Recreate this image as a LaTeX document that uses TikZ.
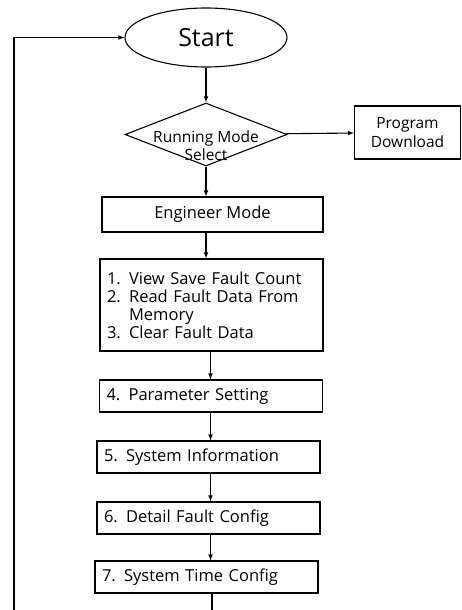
\documentclass[tikz,border=0pt]{standalone}
\usepackage{fontspec}
\setmainfont{Open Sans}
\usetikzlibrary{arrows,positioning,shapes}

\begin{document}
\begin{tikzpicture}[x=1pt,y=-1pt,line width=1.1pt,
        font=\fontsize{16.5}{18}\selectfont,
        box/.style={draw, inner sep=0pt, minimum height=32pt},
        item/.style={box, minimum width=223pt, text width=209pt, align=left}]
                \useasboundingbox (0,0) rectangle (461,610);

                \node [draw, ellipse, minimum width=162pt, minimum height=59pt,
                        font=\fontsize{25}{30}\selectfont] (start) at (206,37.5) {Start};
                \node [draw, diamond, minimum width=162pt, minimum height=63pt,
                        inner sep=0pt] (sel) at (206,134.5) {};
                \node [align=center, font=\fontsize{15.5}{18}\selectfont] (seltxt) at (206,146) {Running Mode\\Select};
                \node [box, minimum width=106pt, minimum height=53pt,
                        align=center, font=\fontsize{15.5}{19}\selectfont] (prog) at (407.5,132.5) {Program\\Download};

                \node [box, minimum width=221pt, minimum height=35pt] (eng) at (212.5,214.5) {Engineer Mode};
                \node [item, minimum height=92pt] (flt) at (211.5,305)
                        {1. View Save Fault Count\\2. Read Fault Data From\\\phantom{2. }Memory\\3. Clear Fault Data};
                \node [item] (par) at (211,396) {4. Parameter Setting};
                \node [item] (sys) at (208.5,457) {5. System Information};
                \node [item] (det) at (208.5,518) {6. Detail Fault Config};
                \node [item] (tim) at (206.5,577) {7. System Time Config};

                \draw[-latex] (start) -- (sel);
                \draw[-latex] (sel) -- (prog);
                \draw[-latex] (sel.south) -- (sel.south |- eng.north);
                \draw[-latex] (sel.south |- eng.south) -- (sel.south |- flt.north);
                \draw[-latex] ([xshift=-1pt]flt.south) -- ([xshift=-1pt]flt.south |- par.north);
                \draw[-latex] ([xshift=-1pt]flt.south |- par.south) -- ([xshift=-1pt]flt.south |- sys.north);
                \draw[-latex] ([xshift=-1pt]flt.south |- sys.south) -- ([xshift=-1pt]flt.south |- det.north);
                \draw[-latex] ([xshift=-1pt]flt.south |- det.south) -- ([xshift=-1pt]flt.south |- tim.north);

                % loop back, runs off the page at the bottom
                \coordinate (low) at (14,625);
                \draw[-latex] ([xshift=5.5pt]tim.south) |- (low) -- (low |- start) -- (start.west);
\end{tikzpicture}
\end{document}
